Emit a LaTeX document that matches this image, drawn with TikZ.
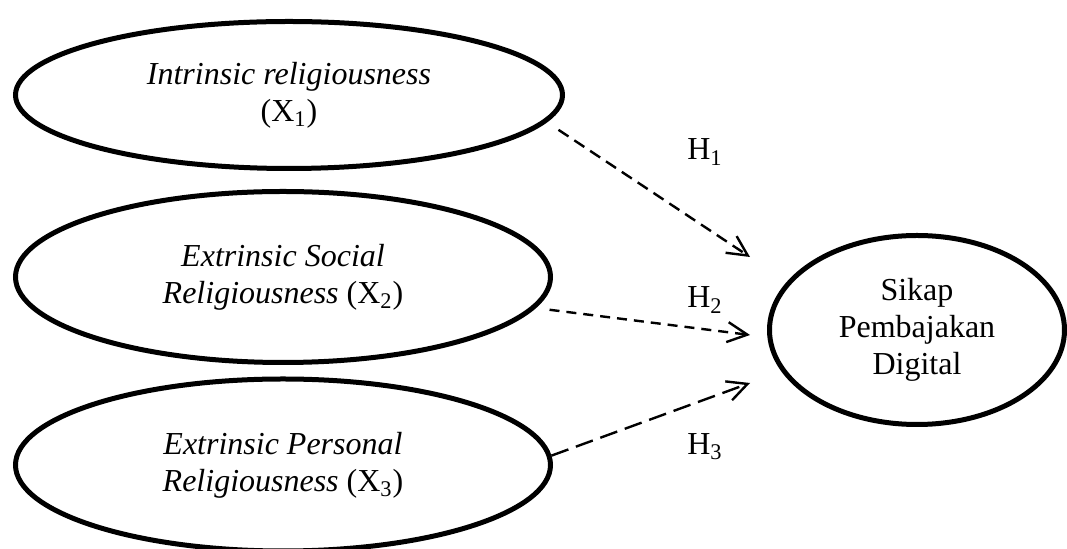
\documentclass[tikz,border=0pt]{standalone}
\usepackage{fontspec}
\setmainfont{Liberation Serif}
\usetikzlibrary{shapes.geometric,arrows.meta}

\begin{document}
\begin{tikzpicture}[x=0.5pt,y=-0.5pt]

\tikzset{
    variabel/.style={draw, ellipse, line width=2.5pt, inner sep=0pt, align=center, font=\fontsize{16}{18.5}\selectfont},
    panah/.style={line width=1.2pt, -{Straight Barb[length=10pt,width=10pt]}},
    hlabel/.style={font=\fontsize{16}{18.5}\selectfont}
}
\useasboundingbox (0,0) rectangle (1067,549);

\node[variabel, minimum width=273.5pt, minimum height=73.5pt] (x1) at (289,95) {\textit{Intrinsic religiousness}\\(X\textsubscript{1})};
\node[variabel, minimum width=267.5pt, minimum height=85.5pt] (x2) at (283,277) {\textit{Extrinsic Social}\\\textit{Religiousness} (X\textsubscript{2})};
\node[variabel, minimum width=267.5pt, minimum height=86pt] (x3) at (283,465) {\textit{Extrinsic Personal}\\\textit{Religiousness} (X\textsubscript{3})};
\node[variabel, minimum width=147.5pt, minimum height=94.5pt] (y) at (917,330) {Sikap\\Pembajakan\\Digital};

% ujung panah
\coordinate (t1) at (750,257);
\coordinate (t2) at (750,335);
\coordinate (t3) at (750,383);

\draw[panah, dash pattern=on 6pt off 3.5pt, shorten <=7pt] (x1.-6) -- (t1);
\draw[panah, dash pattern=on 5pt off 3.5pt, shorten <=7pt] (x2.-7) -- (t2);
\draw[panah, dash pattern=on 9pt off 4pt] (x3.2) -- (t3);

\node[hlabel] (h1) at (705,152) {H\textsubscript{1}};
\node[hlabel] (h2) at (705,300) {H\textsubscript{2}};
\node[hlabel] (h3) at (705,447) {H\textsubscript{3}};
\end{tikzpicture}
\end{document}
